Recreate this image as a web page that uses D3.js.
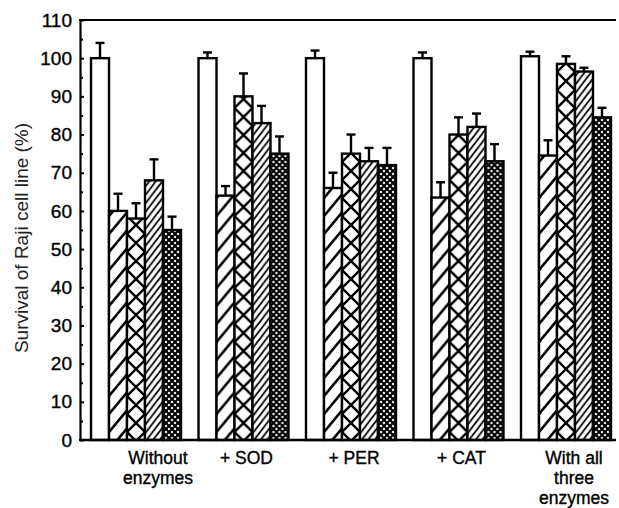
<!DOCTYPE html>
<html>
<head>
<meta charset="utf-8">
<script src="https://cdn.jsdelivr.net/npm/d3@7"></script>
<style>
  body { margin: 0; background: #fff; }
  svg { display: block; font-family: "Liberation Sans", Arial, sans-serif; }
</style>
</head>
<body>
<svg id="root"></svg>
<script>
// data
const categories = ["Without enzymes", "+ SOD", "+ PER", "+ CAT", "With all three enzymes"];
const categoryLines = [["Without", "enzymes"], ["+ SOD"], ["+ PER"], ["+ CAT"], ["With all", "three", "enzymes"]];
const seriesNames = ["open", "hatch", "cross", "hatchDense", "crossDense"];

const openValues = [100, 100, 100, 100, 100.5];
const openErrors = [4, 1.5, 2, 1.5, 1.2];
const hatchValues = [60, 64, 66, 63.5, 74.5];
const hatchErrors = [4.5, 2.5, 4, 4, 4];
const crossValues = [58, 90, 75, 80, 98.5];
const crossErrors = [4, 6, 5, 4.5, 2];
const hatchDenseValues = [68, 83, 73, 82, 96.5];
const hatchDenseErrors = [5.5, 4.5, 3.5, 3.5, 1];
const crossDenseValues = [55, 75, 72, 73, 84.5];
const crossDenseErrors = [3.5, 4.5, 4.5, 4.5, 2.5];

const yTicks = [0, 10, 20, 30, 40, 50, 60, 70, 80, 90, 100, 110];
const yMinorTicks = [5, 15, 25, 35, 45, 55, 65, 75, 85, 95, 105];
const yTitle = "Survival of Raji cell line (%)";

const values = [openValues, hatchValues, crossValues, hatchDenseValues, crossDenseValues];
const errors = [openErrors, hatchErrors, crossErrors, hatchDenseErrors, crossDenseErrors];

const W = 619, H = 508;
const plotLeft = 80, plotTop = 20, plotBottom = 440, axisRight = 616;

const svg = d3.select("#root").attr("width", W).attr("height", H);

// hatch patterns, one per series
const defs = svg.append("defs");

function linesPath(w, h, dir) {
  let d = "";
  for (let k = -1; k <= 1; k++) {
    const yA = dir > 0 ? h + k * h + h / w : k * h - h / w;
    const yB = dir > 0 ? k * h - h / w : h + k * h + h / w;
    d += `M-1,${yA}L${w + 1},${yB}`;
  }
  return d;
}

function addPattern(id, w, h, sw, families) {
  const p = defs.append("pattern")
    .attr("id", id)
    .attr("patternUnits", "userSpaceOnUse")
    .attr("width", w)
    .attr("height", h);
  p.append("rect").attr("width", w).attr("height", h).attr("fill", "#fff");
  families.forEach(dir => {
    p.append("path")
      .attr("d", linesPath(w, h, dir))
      .attr("stroke", "#000")
      .attr("stroke-width", sw)
      .attr("fill", "none");
  });
}

addPattern("pat-hatch", 15, 18, 2.6, [1]);
addPattern("pat-cross", 18, 18, 2.4, [1, -1]);
addPattern("pat-hatchDense", 6.5, 8.5, 1.8, [1]);
addPattern("pat-crossDense", 6, 6, 2.1, [1, -1]);

const fills = ["#fff", "url(#pat-hatch)", "url(#pat-cross)", "url(#pat-hatchDense)", "url(#pat-crossDense)"];

// scales
const x0 = d3.scaleBand().domain(categories).range([plotLeft, 622]).paddingInner(0.163).paddingOuter(0.1025);
const x1 = d3.scaleBand().domain(seriesNames).range([0, x0.bandwidth()]);
const y = d3.scaleLinear([0, 110], [plotBottom, plotTop]);

// bars
categories.forEach((cat, ci) => {
  seriesNames.forEach((s, si) => {
    const v = values[si][ci];
    const e = errors[si][ci];
    const bw = x1.bandwidth();
    const g = svg.append("g")
      .attr("transform", `translate(${x0(cat) + x1(s)},0)`);
    // error bar (upper only)
    g.append("line")
      .attr("x1", bw / 2).attr("x2", bw / 2)
      .attr("y1", y(v)).attr("y2", y(v + e))
      .attr("stroke", "#000").attr("stroke-width", 2.4);
    g.append("line")
      .attr("x1", bw / 2 - 4.5).attr("x2", bw / 2 + 4.5)
      .attr("y1", y(v + e)).attr("y2", y(v + e))
      .attr("stroke", "#000").attr("stroke-width", 2.4);
    g.append("rect")
      .attr("x", 0)
      .attr("y", y(v))
      .attr("width", bw)
      .attr("height", y(0) - y(v))
      .attr("fill", fills[si])
      .attr("stroke", "#000")
      .attr("stroke-width", 2.4);
  });
});

// y axis, ticks point inward
const yAxis = svg.append("g")
  .attr("transform", `translate(${plotLeft},0)`)
  .call(d3.axisLeft(y).tickValues(yTicks).tickSize(-4).tickSizeOuter(0).tickPadding(8));
yAxis.select(".domain").attr("stroke-width", 2.2);
yAxis.selectAll(".tick line").attr("stroke-width", 2);
yAxis.selectAll(".tick text")
  .attr("font-size", 19)
  .attr("font-family", "Liberation Sans, Arial, sans-serif")
  .attr("fill", "#000")
  .attr("stroke", "#000")
  .attr("stroke-width", 0.35);

svg.append("g")
  .attr("transform", `translate(${plotLeft},0)`)
  .call(d3.axisLeft(y).tickValues(yMinorTicks).tickSize(-3).tickFormat(""))
  .call(g => g.select(".domain").remove())
  .selectAll(".tick line").attr("stroke-width", 2);

// baseline and top line
svg.append("line")
  .attr("x1", plotLeft - 1).attr("x2", axisRight)
  .attr("y1", y(0)).attr("y2", y(0))
  .attr("stroke", "#000").attr("stroke-width", 2.4);
svg.append("line")
  .attr("x1", plotLeft - 1).attr("x2", axisRight)
  .attr("y1", y(110)).attr("y2", y(110))
  .attr("stroke", "#000").attr("stroke-width", 2.2);

// category labels
categories.forEach((cat, ci) => {
  const cx = x0(cat) + x0.bandwidth() / 2 + (ci === 0 ? 22 : ci === 4 ? 8 : 3);
  const t = svg.append("text")
    .attr("y", 464)
    .attr("text-anchor", "middle")
    .attr("font-size", 17.5)
    .attr("fill", "#000")
    .attr("stroke", "#000")
    .attr("stroke-width", 0.35);
  categoryLines[ci].forEach((line, li) => {
    t.append("tspan")
      .attr("x", cx)
      .attr("dy", li === 0 ? 0 : 20)
      .text(line);
  });
});

// y title
svg.append("text")
  .attr("transform", "translate(21,238) rotate(-90)")
  .attr("text-anchor", "middle")
  .attr("dy", "0.35em")
  .attr("font-size", 19)
  .attr("fill", "#222")
  .text(yTitle);
</script>
</body>
</html>
